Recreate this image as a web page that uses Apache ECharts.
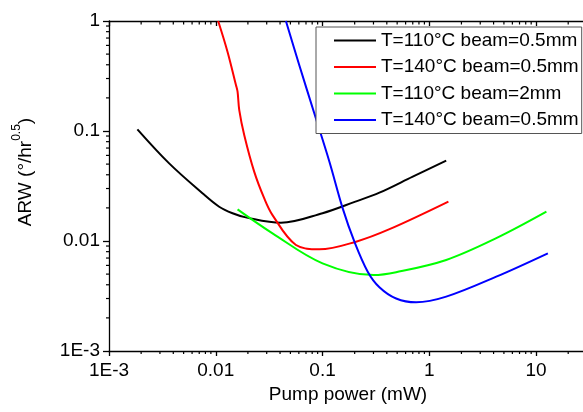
<!DOCTYPE html>
<html>
<head>
<meta charset="utf-8">
<script src="https://cdn.jsdelivr.net/npm/echarts@6/dist/echarts.min.js"></script>
<style>html,body{margin:0;padding:0;background:#fff;}#c{width:583px;height:412px;}</style>
</head>
<body>
<div id="c"></div>
<script>
// ---- data (pump power in mW, ARW in °/hr^0.5) ----
var seriesNames = ['T=110°C beam=0.5mm', 'T=140°C beam=0.5mm', 'T=110°C beam=2mm', 'T=140°C beam=0.5mm'];
var xBlack = [0.001845, 0.00366, 0.0075, 0.01076, 0.01436, 0.0191, 0.0408, 0.1, 0.2, 0.341, 0.70, 1.44];
var yBlack = [0.1036, 0.0508, 0.0272, 0.0205, 0.01786, 0.0164, 0.01466, 0.0179, 0.0227, 0.0275, 0.0385, 0.0537];
var xRed = [0.01053, 0.01288, 0.01545, 0.016, 0.0166, 0.01847, 0.0229, 0.0284, 0.034, 0.0564, 0.0933, 0.206, 0.424, 1.51];
var yRed = [1.0, 0.526, 0.262, 0.2277, 0.155, 0.092, 0.0427, 0.0245, 0.0172, 0.0092, 0.0084, 0.00986, 0.0128, 0.0228];
var xGreen = [0.0160, 0.034, 0.1, 0.3, 0.489, 1.44, 4.24, 12.5];
var yGreen = [0.0194, 0.01175, 0.00627, 0.0049, 0.0052, 0.00672, 0.0106, 0.01846];
var xBlue = [0.0454, 0.0605, 0.0837, 0.116, 0.1545, 0.1988, 0.265, 0.341, 0.489, 0.752, 1.44, 4.24, 12.9];
var yBlue = [1.0, 0.398, 0.145, 0.0526, 0.0198, 0.00986, 0.00526, 0.0038, 0.0030, 0.00277, 0.00312, 0.00474, 0.00773];
var colors = ['#000000', '#ff0000', '#00ff00', '#0000ff'];
var xTickLabels = {'-3': '1E-3', '-2': '0.01', '-1': '0.1', '0': '1', '1': '10'};
var yTickLabels = {'-3': '1E-3', '-2': '0.01', '-1': '0.1', '0': '1'};
var xMin = 0.001, xMax = 30, yMin = 0.001, yMax = 1;

function pairs(xs, ys) { return xs.map(function (x, i) { return [x, ys[i]]; }); }
function powLabel(map) {
  return function (v) {
    var e = Math.log10(v), r = Math.round(e);
    if (Math.abs(e - r) > 1e-6) return '';
    return map[String(r)] || '';
  };
}
var FONT = 'Liberation Sans, Arial, sans-serif';
var chart = echarts.init(document.getElementById('c'));
var lineSeries = [pairs(xBlack, yBlack), pairs(xRed, yRed), pairs(xGreen, yGreen), pairs(xBlue, yBlue)].map(function (d, i) {
  return {
    name: seriesNames[i] + (i === 3 ? '\u200b' : ''),
    type: 'line', data: d, smooth: 0.35, symbol: 'none', showSymbol: false,
    lineStyle: { color: colors[i], width: 2 }, itemStyle: { color: colors[i] },
    clip: true, z: 3, animation: false
  };
});
var legendNames = lineSeries.map(function (s) { return s.name; });
chart.setOption({
  animation: false,
  backgroundColor: '#fff',
  textStyle: { fontFamily: FONT },
  grid: { left: 109, top: 21, width: 478, height: 330, containLabel: false, outerBoundsMode: 'none' },
  legend: {
    data: legendNames, orient: 'vertical', left: 316, top: 27,
    padding: [4, 3, 4, 17], itemWidth: 42, itemHeight: 14, itemGap: 7.5,
    borderColor: '#555', borderWidth: 1, backgroundColor: '#fff',
    itemStyle: { opacity: 0 },
    textStyle: { fontSize: 19, color: '#000', fontFamily: FONT },
    formatter: function (n) { return n.replace('\u200b', ''); }
  },
  xAxis: [{
    type: 'log', logBase: 10, min: xMin, max: xMax,
    name: 'Pump power (mW)', nameLocation: 'middle', nameGap: 34,
    nameTextStyle: { fontSize: 19, color: '#000', fontFamily: FONT },
    axisLine: { show: true, lineStyle: { color: '#000', width: 1.3 } },
    axisTick: { show: true, inside: false, length: 5, lineStyle: { color: '#000', width: 1.3 } },
    axisLabel: { fontSize: 19, color: '#000', margin: 10, formatter: powLabel(xTickLabels), showMaxLabel: false, fontFamily: FONT },
    splitLine: { show: false }, minorTick: { show: false }
  }, {
    type: 'log', logBase: 10, min: xMin, max: xMax, position: 'top',
    axisLine: { show: true, lineStyle: { color: '#000', width: 1.3 } },
    axisTick: { show: true, inside: true, length: 5, lineStyle: { color: '#000', width: 1.3 } },
    axisLabel: { show: false }, splitLine: { show: false }
  }],
  yAxis: {
    type: 'log', logBase: 10, min: yMin, max: yMax,
    name: '{a|ARW (°/hr}{s|0.5}{a|)}', nameLocation: 'middle', nameGap: 74, nameRotate: 90,
    nameTextStyle: {
      fontSize: 19, color: '#000', fontFamily: FONT, padding: [0, 0, 0, 28],
      rich: {
        a: { fontSize: 19, color: '#000', fontFamily: FONT, lineHeight: 24, verticalAlign: 'bottom' },
        s: { fontSize: 12, color: '#000', fontFamily: FONT, lineHeight: 24, verticalAlign: 'top' }
      }
    },
    axisLine: { show: true, lineStyle: { color: '#000', width: 1.3 } },
    axisTick: { show: true, inside: false, length: 6, lineStyle: { color: '#000', width: 1.3 } },
    axisLabel: { fontSize: 19, color: '#000', margin: 9, formatter: powLabel(yTickLabels), fontFamily: FONT },
    splitLine: { show: false }
  },
  series: lineSeries
});

// minor ticks (2..9 x 10^k) placed through the chart's own log scales
var tickEls = [];
function tickLine(x1, y1, x2, y2) {
  return { type: 'line', silent: true, z: 1, shape: { x1: x1, y1: y1, x2: x2, y2: y2 }, style: { stroke: '#000', lineWidth: 1.2 } };
}
for (var k = -3; k <= 1; k++) {
  for (var m = 2; m <= 9; m++) {
    var v = m * Math.pow(10, k);
    if (v < xMax) {
      var b = chart.convertToPixel({ xAxisIndex: 0, yAxisIndex: 0 }, [v, yMin]);
      var t = chart.convertToPixel({ xAxisIndex: 0, yAxisIndex: 0 }, [v, yMax]);
      tickEls.push(tickLine(b[0], b[1], b[0], b[1] + 3));
      tickEls.push(tickLine(t[0], t[1], t[0], t[1] + 3.5));
    }
    if (k < 0) {
      var p = chart.convertToPixel({ xAxisIndex: 0, yAxisIndex: 0 }, [xMin, v]);
      tickEls.push(tickLine(p[0] - 3, p[1], p[0], p[1]));
    }
  }
}
chart.setOption({ graphic: { elements: tickEls } });
</script>
</body>
</html>
